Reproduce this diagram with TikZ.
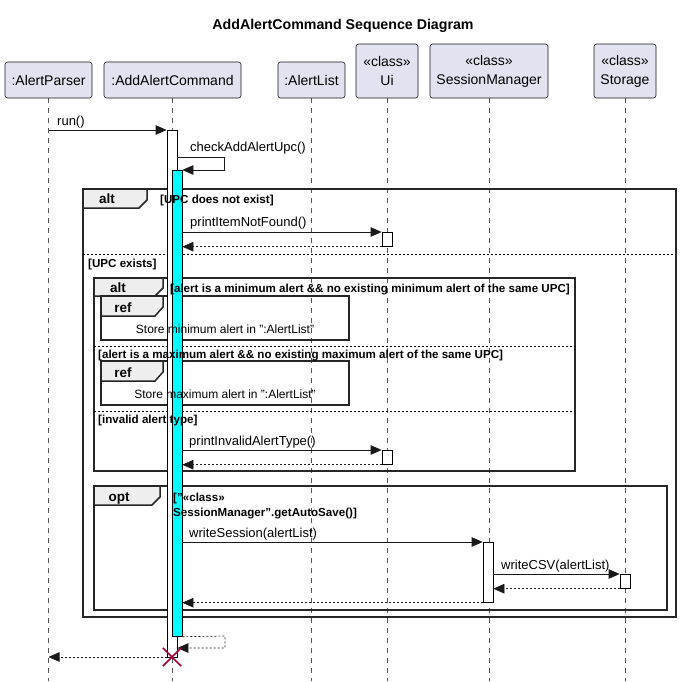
\documentclass[tikz,border=0pt]{standalone}
\usepackage{fontspec}
\setmainfont{Liberation Sans}
\usetikzlibrary{arrows.meta}
\definecolor{partfill}{HTML}{E2E2F0}
\definecolor{partline}{HTML}{181818}
\definecolor{tabfill}{HTML}{EEEEEE}
\definecolor{destroyc}{HTML}{A80036}
\definecolor{lifec}{HTML}{555555}
\definecolor{actcyan}{HTML}{00FFFF}
\begin{document}
\begin{tikzpicture}[x=1pt,y=-1pt,
  part/.style={draw=partline, fill=partfill, rounded corners=2.5pt, inner sep=0pt, align=center,
    font=\fontsize{14}{19}\selectfont, minimum height=36pt, line width=0.6pt},
  lifeline/.style={draw=lifec, line width=0.5pt, dash pattern=on 5pt off 5pt},
  act/.style={draw=black, fill=white, line width=0.7pt, minimum width=10pt, inner sep=0pt, anchor=north},
  actc/.style={act, fill=actcyan},
  msg/.style={draw=black!90, line width=0.7pt, -{Triangle[length=11pt,width=9.5pt]}},
  ret/.style={msg, dash pattern=on 2pt off 2pt},
  mtext/.style={font=\fontsize{13}{15}\selectfont, anchor=base west, inner sep=0pt},
  gtext/.style={font=\bfseries\fontsize{11.6}{13}\selectfont, anchor=base west, inner sep=0pt},
  tabtext/.style={font=\bfseries\fontsize{13.5}{15}\selectfont, anchor=base, inner sep=0pt},
  reftext/.style={font=\fontsize{12}{14}\selectfont, anchor=base, inner sep=0pt},
  frame/.style={draw=black!85, line width=1.5pt},
  tab/.style={frame, fill=tabfill},
  sep/.style={draw=black, line width=0.6pt, dash pattern=on 2pt off 2pt}]
\useasboundingbox[fill=white] (0,0) rectangle (683,681);

% title
\node[font=\bfseries\fontsize{14.2}{16}\selectfont, anchor=base, inner sep=0pt] (title) at (343,29) {AddAlertCommand Sequence Diagram};

% participants
\node[part, minimum width=87pt] (ap) at (48.5,80) {:AlertParser};
\node[part, minimum width=137pt] (ac) at (172.5,80) {:AddAlertCommand};
\node[part, minimum width=67pt] (al) at (311.5,80) {:AlertList};
\node[part, minimum width=62pt, minimum height=54pt] (ui) at (387,71) {«class»\\Ui};
\node[part, minimum width=118pt, minimum height=54pt] (sm) at (489,71) {«class»\\SessionManager};
\node[part, minimum width=62pt, minimum height=54pt] (st) at (625,71) {«class»\\Storage};

% lifelines
\coordinate (apE) at (48.5,681);
\coordinate (acE) at (172,681);
\coordinate (alE) at (311.5,681);
\coordinate (uiE) at (387,681);
\coordinate (smE) at (489,681);
\coordinate (stE) at (625,681);
\draw[lifeline] (ap.south) -- (apE);
\draw[lifeline] (ac.south -| acE) -- (acE);
\draw[lifeline] (al.south) -- (alE);
\draw[lifeline] (ui.south) -- (uiE);
\draw[lifeline] (sm.south) -- (smE);
\draw[lifeline] (st.south) -- (stE);

% frames: outer alt
\draw[frame] (83,189) rectangle (676,617);
\draw[tab] (83,189) -- (147,189) -- (147,200) -- (139,208) -- (83,208) -- cycle;
\node[tabtext] (t1) at (107,203.5) {alt};
\draw[sep] (83,254) -- (676,254);

% inner alt
\draw[frame] (94,278) rectangle (575,471);
\draw[tab] (94,278) -- (163,278) -- (163,288) -- (155,296) -- (94,296) -- cycle;
\node[tabtext] (t2) at (118,292.5) {alt};
\draw[sep] (94,346) -- (575,346);
\draw[sep] (94,411) -- (575,411);

% ref 1
\draw[frame] (101,296) rectangle (349,340);
\draw[tab] (101,296) -- (163,296) -- (163,307) -- (155,316) -- (101,316) -- cycle;
\node[tabtext] (r1) at (123,312) {ref};
% ref 2
\draw[frame] (101,361) rectangle (349,405);
\draw[tab] (101,361) -- (163,361) -- (163,372) -- (155,381) -- (101,381) -- cycle;
\node[tabtext] (r2) at (123,377) {ref};

% opt
\draw[frame] (94,486) rectangle (667,610);
\draw[tab] (94,486) -- (160,486) -- (160,497) -- (152,505) -- (94,505) -- cycle;
\node[tabtext] (t3) at (119,501) {opt};

% activations
\node[act, minimum height=527pt] (actA) at (172,130) {};
\node[actc, minimum height=466pt] (actC) at (177,170) {};
\node[act, minimum height=14pt] (ui1) at (387,232) {};
\node[act, minimum height=14pt] (ui2) at (387,450) {};
\node[act, minimum height=60pt] (sm1) at (488,542) {};
\node[act, minimum height=14pt] (st1) at (625,574) {};

% guard texts
\node[gtext] (g1) at (160,203) {[UPC does not exist]};
\node[gtext] (g2) at (88,267) {[UPC exists]};
\node[gtext] (g3) at (170,292) {[alert is a minimum alert \&\& no existing minimum alert of the same UPC]};
\node[gtext] (g4) at (98,358) {[alert is a maximum alert \&\& no existing maximum alert of the same UPC]};
\node[gtext] (g5) at (98,423) {[invalid alert type]};
\node[gtext] (g6) at (173,501) {["«class»};
\node[gtext] (g7) at (173,516) {SessionManager".getAutoSave()]};

% ref texts
\node[reftext] (rt1) at (225,333) {Store minimum alert in ":AlertList"};
\node[reftext] (rt2) at (225,398) {Store maximum alert in ":AlertList"};

% messages
\coordinate (m1s) at (48.5,130);
\draw[msg] (m1s) -- (actA.north west);
\node[mtext] (l1) at (57,125) {run()};

\coordinate (self1a) at (224,157);
\coordinate (self1b) at (224,170);
\draw[msg] (actA.east |- self1a) -- (self1a) -- (self1b) -- (actC.north east);
\node[mtext] (l2) at (190,151) {checkAddAlertUpc()};

\draw[msg] (actC.east |- ui1.north) -- (ui1.north west);
\draw[ret] (ui1.south west) -- (actC.east |- ui1.south);
\node[mtext] (l3) at (190,226) {printItemNotFound()};

\draw[msg] (actC.east |- ui2.north) -- (ui2.north west);
\draw[ret] (ui2.south west) -- (actC.east |- ui2.south);
\node[mtext] (l4) at (189,445) {printInvalidAlertType()};

\draw[msg] (actC.east |- sm1.north) -- (sm1.north west);
\node[mtext] (l5) at (189,537) {writeSession(alertList)};

\draw[msg] (sm1.east |- st1.north) -- (st1.north west);
\draw[ret] (st1.south west) -- (sm1.east |- st1.south);
\node[mtext] (l6) at (501,569) {writeCSV(alertList)};

\draw[ret] (sm1.south west) -- (actC.east |- sm1.south);

\coordinate (self2a) at (225,636);
\coordinate (self2b) at (225,648);
\draw[ret] (actC.south east) -- (self2a) -- (self2b) -- (actA.east |- self2b);

\coordinate (retP) at (48.5,657);
\draw[ret] (actA.west |- retP) -- (retP);

% destroy
\node[inner sep=0pt, minimum size=18pt] (dx) at (172,657) {};
\draw[destroyc, line width=1.5pt] (dx.north west) -- (dx.south east) (dx.north east) -- (dx.south west);
\end{tikzpicture}
\end{document}
